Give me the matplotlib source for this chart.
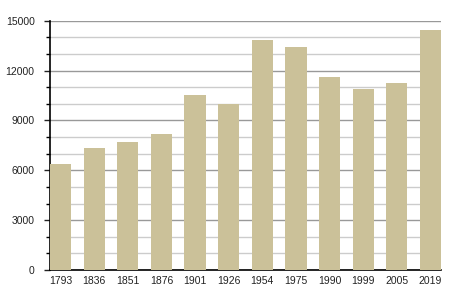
import numpy as np
import matplotlib.pyplot as plt
from matplotlib.ticker import MultipleLocator

# Population by census year
years = ['1793', '1836', '1851', '1876', '1901', '1926', '1954',
         '1975', '1990', '1999', '2005', '2019']
population = [6380, 7360, 7700, 8180, 10530, 9970, 13840,
              13420, 11610, 10910, 11270, 14460]

plt.rcParams['font.family'] = ['Liberation Sans', 'DejaVu Sans']

fig = plt.figure(figsize=(4.5, 3), dpi=100)
ax = fig.add_axes([0.111, 0.1, 0.869, 0.831])

x = np.arange(len(years))
width = 0.63
ax.bar(x, population, width=width, color='#cbc199', zorder=3)

ax.set_xlim(-width / 2, len(years) - 1 + width / 2)
ax.set_ylim(0, 15000)

ax.set_xticks(x)
ax.set_xticklabels(years)
ax.yaxis.set_major_locator(MultipleLocator(3000))
ax.yaxis.set_minor_locator(MultipleLocator(1000))

# grid: darker at major, lighter at minor
ax.grid(axis='y', which='major', color='#999999', linewidth=1.0, zorder=1)
ax.grid(axis='y', which='minor', color='#cccccc', linewidth=1.0, zorder=1)

for side in ['top', 'right']:
    ax.spines[side].set_visible(False)
ax.spines['left'].set_linewidth(1.2)
ax.spines['bottom'].set_linewidth(1.2)

ax.tick_params(axis='x', length=0, pad=4, labelsize=7.5, colors='#222222')
ax.tick_params(axis='y', which='major', length=4, width=1, pad=7, labelsize=7.5,
               colors='#222222')
ax.tick_params(axis='y', which='minor', length=3, width=1)

fig.savefig('out.png', dpi=100)
